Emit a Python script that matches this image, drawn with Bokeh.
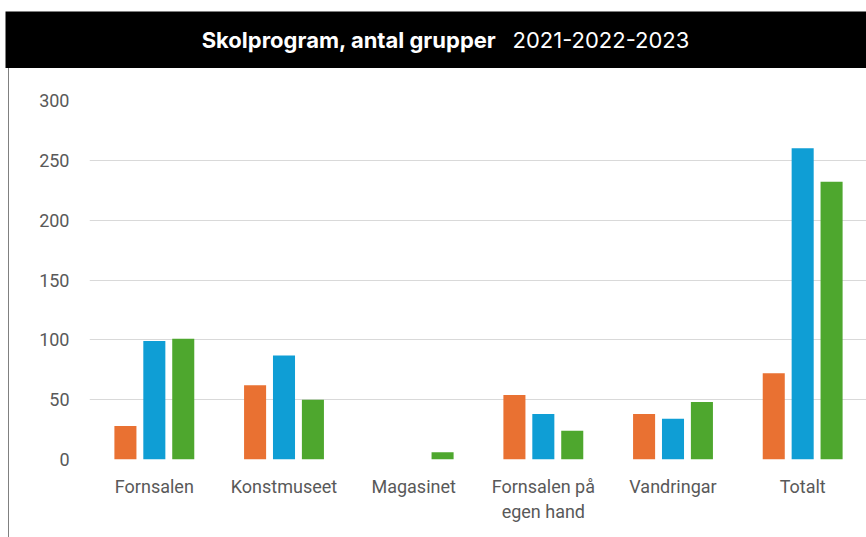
from bokeh.plotting import figure
from bokeh.layouts import column
from bokeh.models import Range1d, FactorRange, ColumnDataSource
from bokeh.transform import dodge
from bokeh.core.properties import value
from bokeh.embed import file_html
from bokeh.resources import INLINE

categories = ["Fornsalen", "Konstmuseet", "Magasinet", "Fornsalen på\negen hand", "Vandringar", "Totalt"]
y2021 = [28, 62, 0, 54, 38, 72]
y2022 = [99, 87, 0, 38, 34, 260]
y2023 = [101, 50, 6, 24, 48, 232]
yticks = [0, 50, 100, 150, 200, 250, 300]
colors = ["#E97132", "#0F9ED5", "#4EA72E"]
title_bold = "Skolprogram, antal grupper"
title_years = "2021-2022-2023"

# title bar
TW = 866
t = figure(width=TW, height=68, output_backend="svg", toolbar_location=None,
           x_range=Range1d(0, TW - 5), y_range=Range1d(0, 57),
           x_axis_location=None, y_axis_location=None,
           min_border_left=5, min_border_right=0, min_border_top=11, min_border_bottom=0)
t.frame_align = False
t.background_fill_color = "black"
t.border_fill_color = "white"
t.outline_line_color = None
t.grid.visible = False
t.text(x=[491], y=[29], text=[title_bold], text_align="right",
       text_baseline="middle", text_color="white", text_font=value("Inter"),
       text_font_size="22px", text_font_style="bold")
t.text(x=[507], y=[29], text=[title_years], text_align="left",
       text_baseline="middle", text_color="white", text_font=value("Inter"),
       text_font_size="22px")

p = figure(width=858, height=469, output_backend="svg", toolbar_location=None,
           x_range=FactorRange(factors=categories, range_padding=0),
           y_range=Range1d(0, 300),
           min_border_left=80, min_border_right=0, min_border_top=32, min_border_bottom=78)
p.frame_align = False
p.margin = (0, 0, 0, 8)
p.x_range.range_padding = 0
p.outline_line_color = None
p.styles = {"border-left": "1px solid #808080"}

src = ColumnDataSource(dict(cat=categories, a=y2021, b=y2022, c=y2023))
for key, off, col in zip(["a", "b", "c"], [-0.223, 0.0, 0.223], colors):
    p.vbar(x=dodge("cat", off, range=p.x_range), top=key, width=0.17, source=src,
           fill_color=col, line_color=None)

p.yaxis.ticker = yticks
p.yaxis.axis_line_color = None
p.yaxis.major_tick_line_color = None
p.yaxis.major_tick_out = 0
p.yaxis.minor_tick_line_color = None
p.yaxis.major_label_standoff = 20
p.yaxis.major_label_text_font = "Roboto"
p.yaxis.major_label_text_font_size = "18px"
p.yaxis.major_label_text_color = "#595959"

p.xaxis.axis_line_color = None
p.xaxis.major_tick_line_color = None
p.xaxis.major_tick_out = 0
p.xaxis.major_label_standoff = 16
p.xaxis.major_label_text_font = "Roboto"
p.xaxis.major_label_text_font_size = "18px"
p.xaxis.major_label_text_color = "#595959"

p.xgrid.grid_line_color = None
p.ygrid.grid_line_color = "#d9d9d9"
p.ygrid.grid_line_width = 1

layout = column(t, p, spacing=0)
open("out.html", "w").write(file_html(layout, INLINE))
